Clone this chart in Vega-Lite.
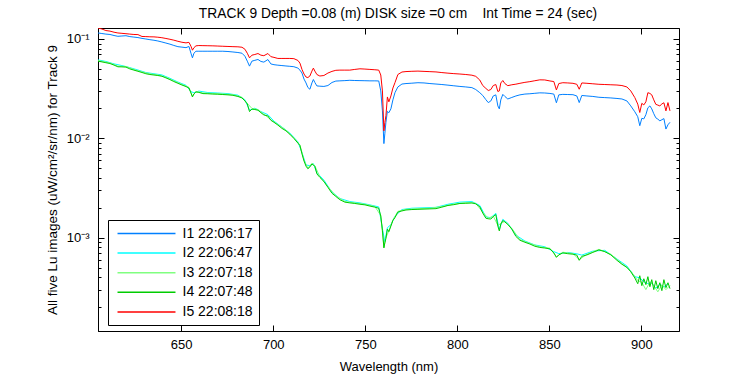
{
"$schema": "https://vega.github.io/schema/vega-lite/v6.json",
"width": 581, "height": 303,
"autosize": {"type": "none"},
"padding": {"left": 98, "top": 28, "right": 71, "bottom": 44},
"background": "white",
"title": {"text": "TRACK 9 Depth =0.08 (m) DISK size =0 cm\u00a0\u00a0\u00a0 Int Time = 24 (sec)", "fontSize": 13.8, "fontWeight": "normal", "color": "black", "offset": 7, "frame": "group", "anchor": "middle", "dx": 9.5},
"config": {
  "font": "Liberation Sans",
  "view": {"stroke": "black", "strokeWidth": 1},
  "axis": {"grid": false, "domainColor": "black", "tickColor": "black", "labelColor": "black", "titleColor": "black", "labelFontSize": 13, "titleFontSize": 13, "titleFontWeight": "normal", "labelOverlap": false, "labelFlush": false}
},
"data": {"values": [
{"w":604.8,"I1 22:06:17":0.115,"I2 22:06:47":0.0616,"I3 22:07:18":0.0607,"I4 22:07:48":0.0598,"I5 22:08:18":0.129},
{"w":606.9,"I1 22:06:17":0.1135,"I3 22:07:18":0.0597,"I4 22:07:48":0.0588,"I5 22:08:18":0.126},
{"w":609.1,"I1 22:06:17":0.112,"I2 22:06:47":0.0594,"I4 22:07:48":0.0577,"I5 22:08:18":0.1216},
{"w":611.3,"I1 22:06:17":0.111,"I3 22:07:18":0.0574,"I4 22:07:48":0.0566,"I5 22:08:18":0.120},
{"w":613.5,"I1 22:06:17":0.1084,"I2 22:06:47":0.0562,"I4 22:07:48":0.0546,"I5 22:08:18":0.117},
{"w":615.6,"I1 22:06:17":0.1064,"I3 22:07:18":0.0533,"I4 22:07:48":0.0525,"I5 22:08:18":0.115},
{"w":617.8,"I1 22:06:17":0.1072,"I2 22:06:47":0.0540,"I4 22:07:48":0.0524,"I5 22:08:18":0.114},
{"w":620.0,"I1 22:06:17":0.1079,"I3 22:07:18":0.0529,"I4 22:07:48":0.0521,"I5 22:08:18":0.113},
{"w":622.1,"I1 22:06:17":0.1057,"I2 22:06:47":0.0515,"I4 22:07:48":0.0500,"I5 22:08:18":0.112},
{"w":624.3,"I1 22:06:17":0.1045,"I3 22:07:18":0.0493,"I4 22:07:48":0.0486,"I5 22:08:18":0.111},
{"w":626.5,"I1 22:06:17":0.1033,"I2 22:06:47":0.0487,"I4 22:07:48":0.0473,"I5 22:08:18":0.1107},
{"w":628.7,"I1 22:06:17":0.1014,"I3 22:07:18":0.0467,"I4 22:07:48":0.0460,"I5 22:08:18":0.106},
{"w":630.8,"I1 22:06:17":0.1000,"I2 22:06:47":0.0460,"I4 22:07:48":0.0447,"I5 22:08:18":0.1057},
{"w":633.0,"I1 22:06:17":0.0984,"I3 22:07:18":0.0446,"I4 22:07:48":0.0439,"I5 22:08:18":0.1052},
{"w":635.2,"I1 22:06:17":0.0971,"I2 22:06:47":0.0447,"I4 22:07:48":0.0434,"I5 22:08:18":0.105},
{"w":637.3,"I1 22:06:17":0.0955,"I3 22:07:18":0.0435,"I4 22:07:48":0.0429,"I5 22:08:18":0.1042},
{"w":639.5,"I1 22:06:17":0.0933,"I2 22:06:47":0.0435,"I4 22:07:48":0.0422,"I5 22:08:18":0.103},
{"w":641.7,"I1 22:06:17":0.0910,"I3 22:07:18":0.0412,"I4 22:07:48":0.0406,"I5 22:08:18":0.1012},
{"w":643.9,"I1 22:06:17":0.0887,"I2 22:06:47":0.0402,"I4 22:07:48":0.0390,"I5 22:08:18":0.0993},
{"w":646.0,"I1 22:06:17":0.0861,"I3 22:07:18":0.0379,"I4 22:07:48":0.0373,"I5 22:08:18":0.0973},
{"w":648.2,"I1 22:06:17":0.0837,"I2 22:06:47":0.0369,"I4 22:07:48":0.0358,"I5 22:08:18":0.0948},
{"w":650.4,"I1 22:06:17":0.0828,"I3 22:07:18":0.0349,"I4 22:07:48":0.0344,"I5 22:08:18":0.0927},
{"w":652.6,"I1 22:06:17":0.0818,"I2 22:06:47":0.0342,"I4 22:07:48":0.0332,"I5 22:08:18":0.0914},
{"w":654.2,"I1 22:06:17":0.0841,"I3 22:07:18":0.0326,"I4 22:07:48":0.0321,"I5 22:08:18":0.0925},
{"w":655.3,"I1 22:06:17":0.0719,"I2 22:06:47":0.0295,"I4 22:07:48":0.0286,"I5 22:08:18":0.0845},
{"w":656.1,"I1 22:06:17":0.0646,"I3 22:07:18":0.0265,"I4 22:07:48":0.0261,"I5 22:08:18":0.0771},
{"w":656.9,"I1 22:06:17":0.0719,"I2 22:06:47":0.0288,"I4 22:07:48":0.0280,"I5 22:08:18":0.0817},
{"w":658.0,"I1 22:06:17":0.0753,"I3 22:07:18":0.0297,"I4 22:07:48":0.0293,"I5 22:08:18":0.0853},
{"w":659.6,"I1 22:06:17":0.0753,"I2 22:06:47":0.0299,"I4 22:07:48":0.0290,"I5 22:08:18":0.0859},
{"w":661.8,"I1 22:06:17":0.0753,"I3 22:07:18":0.0286,"I4 22:07:48":0.0282,"I5 22:08:18":0.0857},
{"w":664.5,"I1 22:06:17":0.0753,"I2 22:06:47":0.0289,"I4 22:07:48":0.0281,"I5 22:08:18":0.0855},
{"w":667.2,"I1 22:06:17":0.0753,"I3 22:07:18":0.0283,"I4 22:07:48":0.0279,"I5 22:08:18":0.0853},
{"w":669.9,"I1 22:06:17":0.0753,"I2 22:06:47":0.0286,"I4 22:07:48":0.0278,"I5 22:08:18":0.0849},
{"w":672.6,"I1 22:06:17":0.0753,"I3 22:07:18":0.0280,"I4 22:07:48":0.0276,"I5 22:08:18":0.0845},
{"w":675.4,"I1 22:06:17":0.0748,"I2 22:06:47":0.0282,"I4 22:07:48":0.0274,"I5 22:08:18":0.0841},
{"w":678.1,"I1 22:06:17":0.0740,"I3 22:07:18":0.0275,"I4 22:07:48":0.0271,"I5 22:08:18":0.0837},
{"w":680.8,"I1 22:06:17":0.0731,"I2 22:06:47":0.0272,"I4 22:07:48":0.0264,"I5 22:08:18":0.0834},
{"w":683.0,"I1 22:06:17":0.0719,"I3 22:07:18":0.0259,"I4 22:07:48":0.0255,"I5 22:08:18":0.0826},
{"w":684.6,"I1 22:06:17":0.0671,"I2 22:06:47":0.0245,"I4 22:07:48":0.0238,"I5 22:08:18":0.0789},
{"w":685.9,"I1 22:06:17":0.0598,"I3 22:07:18":0.0225,"I4 22:07:48":0.0222,"I5 22:08:18":0.0719},
{"w":687.1,"I1 22:06:17":0.0533,"I2 22:06:47":0.0192,"I4 22:07:48":0.0186,"I5 22:08:18":0.0646},
{"w":688.4,"I1 22:06:17":0.0598,"I3 22:07:18":0.0200,"I4 22:07:48":0.0197,"I5 22:08:18":0.0687},
{"w":690.0,"I1 22:06:17":0.0610,"I2 22:06:47":0.0201,"I4 22:07:48":0.0195,"I5 22:08:18":0.0698},
{"w":691.7,"I1 22:06:17":0.0622,"I3 22:07:18":0.0195,"I4 22:07:48":0.0192,"I5 22:08:18":0.0714},
{"w":693.3,"I1 22:06:17":0.0594,"I2 22:06:47":0.0186,"I4 22:07:48":0.0181,"I5 22:08:18":0.0687},
{"w":694.9,"I1 22:06:17":0.0585,"I3 22:07:18":0.0175,"I4 22:07:48":0.0172,"I5 22:08:18":0.0679},
{"w":697.1,"I1 22:06:17":0.0621,"I2 22:06:47":0.0173,"I4 22:07:48":0.0168,"I5 22:08:18":0.0714},
{"w":698.7,"I1 22:06:17":0.0561,"I3 22:07:18":0.0154,"I4 22:07:48":0.0152,"I5 22:08:18":0.0664},
{"w":700.4,"I1 22:06:17":0.0551,"I2 22:06:47":0.0149,"I4 22:07:48":0.0145,"I5 22:08:18":0.0653},
{"w":702.5,"I1 22:06:17":0.0545,"I3 22:07:18":0.0138,"I4 22:07:48":0.0136,"I5 22:08:18":0.0637},
{"w":704.7,"I1 22:06:17":0.0540,"I2 22:06:47":0.0130,"I4 22:07:48":0.0126,"I5 22:08:18":0.0637},
{"w":706.9,"I1 22:06:17":0.0535,"I3 22:07:18":0.0121,"I4 22:07:48":0.0119,"I5 22:08:18":0.0637},
{"w":709.0,"I1 22:06:17":0.0531,"I2 22:06:47":0.0113,"I4 22:07:48":0.0110,"I5 22:08:18":0.0637},
{"w":711.2,"I1 22:06:17":0.0526,"I3 22:07:18":0.0101,"I4 22:07:48":0.00998,"I5 22:08:18":0.0634},
{"w":713.4,"I1 22:06:17":0.0509,"I2 22:06:47":0.00922,"I4 22:07:48":0.00895,"I5 22:08:18":0.0608},
{"w":714.5,"I1 22:06:17":0.0486,"I3 22:07:18":0.00858,"I4 22:07:48":0.00845,"I5 22:08:18":0.0571},
{"w":715.6,"I1 22:06:17":0.0454,"I2 22:06:47":0.00719,"I4 22:07:48":0.00698,"I5 22:08:18":0.0494},
{"w":716.7,"I1 22:06:17":0.0395,"I3 22:07:18":0.00601,"I4 22:07:48":0.00592,"I5 22:08:18":0.0444},
{"w":717.8,"I1 22:06:17":0.0361,"I2 22:06:47":0.00540,"I4 22:07:48":0.00524,"I5 22:08:18":0.0414},
{"w":718.8,"I1 22:06:17":0.0325,"I3 22:07:18":0.00501,"I4 22:07:48":0.00494,"I5 22:08:18":0.0409},
{"w":719.9,"I1 22:06:17":0.0312,"I2 22:06:47":0.00530,"I4 22:07:48":0.00515,"I5 22:08:18":0.0424},
{"w":721.0,"I1 22:06:17":0.0361,"I3 22:07:18":0.00560,"I4 22:07:48":0.00552,"I5 22:08:18":0.0475},
{"w":721.8,"I1 22:06:17":0.0391,"I2 22:06:47":0.00556,"I4 22:07:48":0.00540,"I5 22:08:18":0.0509},
{"w":722.6,"I1 22:06:17":0.0365,"I3 22:07:18":0.00529,"I4 22:07:48":0.00521,"I5 22:08:18":0.0475},
{"w":723.7,"I1 22:06:17":0.0337,"I2 22:06:47":0.00452,"I4 22:07:48":0.00439,"I5 22:08:18":0.0439},
{"w":725.3,"I1 22:06:17":0.0335,"I3 22:07:18":0.00411,"I4 22:07:48":0.00405,"I5 22:08:18":0.0424},
{"w":727.5,"I1 22:06:17":0.0333,"I2 22:06:47":0.00380,"I4 22:07:48":0.00369,"I5 22:08:18":0.0429},
{"w":729.7,"I1 22:06:17":0.0340,"I3 22:07:18":0.00326,"I4 22:07:48":0.00321,"I5 22:08:18":0.0454},
{"w":731.9,"I1 22:06:17":0.0365,"I2 22:06:47":0.00288,"I4 22:07:48":0.00280,"I5 22:08:18":0.0472},
{"w":734.0,"I1 22:06:17":0.0377,"I3 22:07:18":0.00264,"I4 22:07:48":0.00260,"I5 22:08:18":0.0484},
{"w":736.2,"I1 22:06:17":0.0379,"I2 22:06:47":0.00248,"I4 22:07:48":0.00241,"I5 22:08:18":0.0486},
{"w":738.9,"I1 22:06:17":0.0381,"I3 22:07:18":0.00231,"I4 22:07:48":0.00228,"I5 22:08:18":0.0486},
{"w":741.6,"I1 22:06:17":0.0384,"I2 22:06:47":0.00231,"I4 22:07:48":0.00224,"I5 22:08:18":0.0486},
{"w":744.3,"I1 22:06:17":0.0382,"I3 22:07:18":0.00224,"I4 22:07:48":0.00221,"I5 22:08:18":0.0494},
{"w":747.1,"I1 22:06:17":0.0381,"I2 22:06:47":0.00224,"I4 22:07:48":0.00217,"I5 22:08:18":0.0501},
{"w":749.8,"I1 22:06:17":0.0380,"I3 22:07:18":0.00217,"I4 22:07:48":0.00214,"I5 22:08:18":0.0498},
{"w":752.5,"I1 22:06:17":0.0379,"I2 22:06:47":0.00214,"I4 22:07:48":0.00208,"I5 22:08:18":0.0494},
{"w":755.2,"I1 22:06:17":0.0379,"I3 22:07:18":0.00206,"I4 22:07:48":0.00203,"I5 22:08:18":0.0490},
{"w":757.3,"I1 22:06:17":0.0378,"I2 22:06:47":0.00204,"I4 22:07:48":0.00198,"I5 22:08:18":0.0486},
{"w":758.4,"I1 22:06:17":0.0300,"I3 22:07:18":0.00167,"I4 22:07:48":0.00165,"I5 22:08:18":0.0434},
{"w":759.3,"I1 22:06:17":0.0189,"I2 22:06:47":0.00123,"I4 22:07:48":0.00119,"I5 22:08:18":0.0300},
{"w":760.1,"I1 22:06:17":0.00885,"I3 22:07:18":0.000801,"I4 22:07:48":0.000789,"I5 22:08:18":0.0119},
{"w":760.6,"I1 22:06:17":0.0111,"I2 22:06:47":0.000912,"I4 22:07:48":0.000885,"I5 22:08:18":0.0144},
{"w":761.2,"I1 22:06:17":0.0145,"I3 22:07:18":0.00100,"I4 22:07:48":0.000986,"I5 22:08:18":0.0169},
{"w":762.0,"I1 22:06:17":0.0187,"I2 22:06:47":0.00126,"I4 22:07:48":0.00122,"I5 22:08:18":0.0261},
{"w":762.8,"I1 22:06:17":0.0181,"I3 22:07:18":0.00117,"I4 22:07:48":0.00115,"I5 22:08:18":0.0233},
{"w":763.9,"I1 22:06:17":0.0198,"I2 22:06:47":0.00135,"I4 22:07:48":0.00131,"I5 22:08:18":0.0267},
{"w":765.0,"I1 22:06:17":0.0244,"I3 22:07:18":0.00151,"I4 22:07:48":0.00149,"I5 22:08:18":0.0321},
{"w":766.1,"I1 22:06:17":0.0288,"I2 22:06:47":0.00164,"I4 22:07:48":0.00159,"I5 22:08:18":0.0363},
{"w":767.7,"I1 22:06:17":0.0329,"I3 22:07:18":0.00184,"I4 22:07:48":0.00181,"I5 22:08:18":0.0439},
{"w":769.9,"I1 22:06:17":0.0352,"I2 22:06:47":0.00192,"I4 22:07:48":0.00186,"I5 22:08:18":0.0465},
{"w":772.1,"I1 22:06:17":0.0356,"I3 22:07:18":0.00193,"I4 22:07:48":0.00190,"I5 22:08:18":0.0470},
{"w":775.3,"I1 22:06:17":0.0359,"I2 22:06:47":0.00198,"I4 22:07:48":0.00192,"I5 22:08:18":0.0473},
{"w":778.6,"I1 22:06:17":0.0363,"I3 22:07:18":0.00196,"I4 22:07:48":0.00193,"I5 22:08:18":0.0475},
{"w":781.9,"I1 22:06:17":0.0361,"I2 22:06:47":0.00200,"I4 22:07:48":0.00194,"I5 22:08:18":0.0472},
{"w":785.1,"I1 22:06:17":0.0356,"I3 22:07:18":0.00198,"I4 22:07:48":0.00195,"I5 22:08:18":0.0469},
{"w":788.4,"I1 22:06:17":0.0352,"I2 22:06:47":0.00202,"I4 22:07:48":0.00196,"I5 22:08:18":0.0466},
{"w":791.6,"I1 22:06:17":0.0348,"I3 22:07:18":0.00206,"I4 22:07:48":0.00203,"I5 22:08:18":0.0459},
{"w":794.9,"I1 22:06:17":0.0343,"I2 22:06:47":0.00217,"I4 22:07:48":0.00211,"I5 22:08:18":0.0453},
{"w":798.1,"I1 22:06:17":0.0338,"I3 22:07:18":0.00218,"I4 22:07:48":0.00215,"I5 22:08:18":0.0448},
{"w":801.4,"I1 22:06:17":0.0333,"I2 22:06:47":0.00228,"I4 22:07:48":0.00221,"I5 22:08:18":0.0444},
{"w":804.6,"I1 22:06:17":0.0329,"I3 22:07:18":0.00225,"I4 22:07:48":0.00222,"I5 22:08:18":0.0439},
{"w":807.9,"I1 22:06:17":0.0324,"I2 22:06:47":0.00231,"I4 22:07:48":0.00224,"I5 22:08:18":0.0432},
{"w":810.0,"I1 22:06:17":0.0310,"I3 22:07:18":0.00222,"I4 22:07:48":0.00219,"I5 22:08:18":0.0421},
{"w":812.2,"I1 22:06:17":0.0288,"I2 22:06:47":0.00211,"I4 22:07:48":0.00205,"I5 22:08:18":0.0386},
{"w":813.8,"I1 22:06:17":0.0270,"I3 22:07:18":0.00180,"I4 22:07:48":0.00177,"I5 22:08:18":0.0340},
{"w":815.5,"I1 22:06:17":0.0245,"I2 22:06:47":0.00162,"I4 22:07:48":0.00157,"I5 22:08:18":0.0318},
{"w":816.8,"I1 22:06:17":0.0229,"I3 22:07:18":0.00157,"I4 22:07:48":0.00155,"I5 22:08:18":0.0303},
{"w":818.2,"I1 22:06:17":0.0238,"I2 22:06:47":0.00159,"I4 22:07:48":0.00154,"I5 22:08:18":0.0310},
{"w":819.5,"I1 22:06:17":0.0267,"I3 22:07:18":0.00165,"I4 22:07:48":0.00163,"I5 22:08:18":0.0340},
{"w":820.9,"I1 22:06:17":0.0274,"I2 22:06:47":0.00176,"I4 22:07:48":0.00171,"I5 22:08:18":0.0348},
{"w":822.0,"I1 22:06:17":0.0212,"I3 22:07:18":0.00133,"I4 22:07:48":0.00131,"I5 22:08:18":0.0296},
{"w":822.8,"I1 22:06:17":0.0198,"I2 22:06:47":0.00121,"I4 22:07:48":0.00117,"I5 22:08:18":0.0300},
{"w":823.6,"I1 22:06:17":0.0244,"I3 22:07:18":0.00139,"I4 22:07:48":0.00137,"I5 22:08:18":0.0361},
{"w":824.7,"I1 22:06:17":0.0277,"I2 22:06:47":0.00153,"I4 22:07:48":0.00149,"I5 22:08:18":0.0382},
{"w":825.8,"I1 22:06:17":0.0264,"I3 22:07:18":0.00146,"I4 22:07:48":0.00144,"I5 22:08:18":0.0356},
{"w":827.4,"I1 22:06:17":0.0249,"I2 22:06:47":0.00140,"I4 22:07:48":0.00136,"I5 22:08:18":0.0339},
{"w":829.6,"I1 22:06:17":0.0258,"I3 22:07:18":0.00124,"I4 22:07:48":0.00122,"I5 22:08:18":0.0346},
{"w":831.8,"I1 22:06:17":0.0267,"I2 22:06:47":0.00106,"I4 22:07:48":0.00103,"I5 22:08:18":0.0351},
{"w":834.0,"I1 22:06:17":0.0274,"I3 22:07:18":0.000956,"I4 22:07:48":0.000942,"I5 22:08:18":0.0358},
{"w":836.7,"I1 22:06:17":0.0279,"I2 22:06:47":0.000926,"I4 22:07:48":0.000899,"I5 22:08:18":0.0366},
{"w":839.4,"I1 22:06:17":0.0281,"I3 22:07:18":0.000876,"I4 22:07:48":0.000863,"I5 22:08:18":0.0372},
{"w":842.1,"I1 22:06:17":0.0284,"I2 22:06:47":0.000845,"I4 22:07:48":0.000820,"I5 22:08:18":0.0380},
{"w":844.8,"I1 22:06:17":0.0287,"I3 22:07:18":0.000810,"I4 22:07:48":0.000798,"I5 22:08:18":0.0388},
{"w":847.5,"I1 22:06:17":0.0286,"I2 22:06:47":0.000811,"I4 22:07:48":0.000787,"I5 22:08:18":0.0387},
{"w":850.3,"I1 22:06:17":0.0283,"I3 22:07:18":0.000783,"I4 22:07:48":0.000771,"I5 22:08:18":0.0378},
{"w":852.4,"I1 22:06:17":0.0279,"I2 22:06:47":0.000724,"I4 22:07:48":0.000703,"I5 22:08:18":0.0373},
{"w":853.8,"I1 22:06:17":0.0228,"I3 22:07:18":0.000644,"I4 22:07:48":0.000634,"I5 22:08:18":0.0307},
{"w":855.1,"I1 22:06:17":0.0274,"I2 22:06:47":0.000691,"I4 22:07:48":0.000671,"I5 22:08:18":0.0356},
{"w":857.3,"I1 22:06:17":0.0277,"I3 22:07:18":0.000714,"I4 22:07:48":0.000703,"I5 22:08:18":0.0363},
{"w":860.0,"I1 22:06:17":0.0276,"I2 22:06:47":0.000711,"I4 22:07:48":0.000690,"I5 22:08:18":0.0361},
{"w":862.8,"I1 22:06:17":0.0275,"I3 22:07:18":0.000692,"I4 22:07:48":0.000682,"I5 22:08:18":0.0358},
{"w":864.9,"I1 22:06:17":0.0267,"I2 22:06:47":0.000688,"I4 22:07:48":0.000668,"I5 22:08:18":0.0350},
{"w":866.2,"I1 22:06:17":0.0229,"I3 22:07:18":0.000601,"I4 22:07:48":0.000592,"I5 22:08:18":0.0312},
{"w":867.6,"I1 22:06:17":0.0270,"I2 22:06:47":0.000668,"I4 22:07:48":0.000649,"I5 22:08:18":0.0361},
{"w":870.4,"I1 22:06:17":0.0267,"I3 22:07:18":0.000681,"I4 22:07:48":0.000671,"I5 22:08:18":0.0358},
{"w":873.6,"I1 22:06:17":0.0264,"I2 22:06:47":0.000732,"I4 22:07:48":0.000711,"I5 22:08:18":0.0354},
{"w":876.9,"I1 22:06:17":0.0259,"I3 22:07:18":0.000764,"I4 22:07:48":0.000753,"I5 22:08:18":0.0350},
{"w":880.1,"I1 22:06:17":0.0257,"I2 22:06:47":0.000746,"I4 22:07:48":0.000724,"I5 22:08:18":0.0348},
{"w":883.4,"I1 22:06:17":0.0255,"I3 22:07:18":0.000681,"I4 22:07:48":0.000671,"I5 22:08:18":0.0346},
{"w":886.7,"I1 22:06:17":0.0252,"I2 22:06:47":0.000610,"I4 22:07:48":0.000592,"I5 22:08:18":0.0344},
{"w":889.4,"I1 22:06:17":0.0249,"I3 22:07:18":0.000548,"I4 22:07:48":0.000540,"I5 22:08:18":0.0340},
{"w":892.1,"I1 22:06:17":0.0238,"I2 22:06:47":0.000519,"I4 22:07:48":0.000504,"I5 22:08:18":0.0329},
{"w":894.2,"I1 22:06:17":0.0212,"I3 22:07:18":0.000461,"I4 22:07:48":0.000454,"I5 22:08:18":0.0300},
{"w":896.4,"I1 22:06:17":0.0185,"I2 22:06:47":0.000405,"I4 22:07:48":0.000393,"I5 22:08:18":0.0257},
{"w":898.0,"I1 22:06:17":0.0165,"I3 22:07:18":0.000370,"I4 22:07:48":0.000344,"I5 22:08:18":0.0221},
{"w":899.1,"I1 22:06:17":0.0134,"I2 22:06:47":0.000395,"I4 22:07:48":0.000414,"I5 22:08:18":0.0182},
{"w":900.2,"I1 22:06:17":0.0159,"I3 22:07:18":0.000355,"I4 22:07:48":0.000329,"I5 22:08:18":0.0225},
{"w":901.3,"I1 22:06:17":0.0157,"I2 22:06:47":0.000360,"I4 22:07:48":0.000386,"I5 22:08:18":0.0217},
{"w":902.4,"I1 22:06:17":0.0173,"I3 22:07:18":0.000300,"I4 22:07:48":0.000337,"I5 22:08:18":0.0233},
{"w":903.5,"I1 22:06:17":0.0203,"I2 22:06:47":0.000345,"I4 22:07:48":0.000405,"I5 22:08:18":0.0288},
{"w":904.6,"I1 22:06:17":0.0212,"I3 22:07:18":0.000360,"I4 22:07:48":0.000321,"I5 22:08:18":0.0283},
{"w":905.6,"I1 22:06:17":0.0198,"I2 22:06:47":0.000350,"I4 22:07:48":0.000378,"I5 22:08:18":0.0274},
{"w":906.7,"I1 22:06:17":0.0177,"I3 22:07:18":0.000330,"I4 22:07:48":0.000300,"I5 22:08:18":0.0244},
{"w":907.8,"I1 22:06:17":0.0161,"I2 22:06:47":0.000310,"I4 22:07:48":0.000369,"I5 22:08:18":0.0220},
{"w":908.9,"I1 22:06:17":0.0156,"I3 22:07:18":0.000285,"I4 22:07:48":0.000307,"I5 22:08:18":0.0216},
{"w":910.0,"I1 22:06:17":0.0150,"I2 22:06:47":0.000340,"I4 22:07:48":0.000352,"I5 22:08:18":0.0212},
{"w":911.1,"I1 22:06:17":0.0154,"I3 22:07:18":0.000335,"I4 22:07:48":0.000293,"I5 22:08:18":0.0222},
{"w":912.2,"I1 22:06:17":0.0158,"I2 22:06:47":0.000320,"I4 22:07:48":0.000378,"I5 22:08:18":0.0228},
{"w":913.3,"I1 22:06:17":0.0124,"I3 22:07:18":0.000300,"I4 22:07:48":0.000314,"I5 22:08:18":0.0189},
{"w":914.4,"I1 22:06:17":0.0137,"I2 22:06:47":0.000345,"I4 22:07:48":0.000352,"I5 22:08:18":0.0229},
{"w":915.5,"I1 22:06:17":0.0145,"I3 22:07:18":0.000330,"I4 22:07:48":0.000307,"I5 22:08:18":0.0189}
]},
"transform": [
  {"fold": ["I1 22:06:17","I2 22:06:47","I3 22:07:18","I4 22:07:48","I5 22:08:18"], "as": ["series","value"]},
  {"filter": "isValid(datum.value)"}
],
"layer": [
  {
    "mark": {"type": "line", "strokeWidth": 1, "clip": true},
    "encoding": {
      "x": {"field": "w", "type": "quantitative", "scale": {"domain": [604.8, 920.4], "nice": false, "zero": false},
        "axis": {"values": [650,700,750,800,850,900], "title": "Wavelength (nm)", "tickSize": -6, "labelPadding": 13, "titlePadding": 9}},
      "y": {"field": "value", "type": "quantitative", "scale": {"type": "log", "domain": [0.000115, 0.129], "nice": false},
        "axis": {"values": [0.0002,0.0003,0.0004,0.0005,0.0006,0.0007,0.0008,0.0009,0.001,0.002,0.003,0.004,0.005,0.006,0.007,0.008,0.009,0.01,0.02,0.03,0.04,0.05,0.06,0.07,0.08,0.09,0.1],
          "labelExpr": "datum.value == 0.1 ? '10⁻¹' : datum.value == 0.01 ? '10⁻²' : datum.value == 0.001 ? '10⁻³' : ''",
          "tickSize": {"condition": {"test": "datum.value == 0.1 || datum.value == 0.01 || datum.value == 0.001", "value": -6}, "value": -3},
          "labelPadding": 15, "title": "All five Lu images (uW/cm²/sr/nm) for Track 9", "titleFontSize": 13.5, "titlePadding": 7}},
      "color": {"field": "series", "type": "nominal",
        "scale": {"domain": ["I1 22:06:17","I2 22:06:47","I3 22:07:18","I4 22:07:48","I5 22:08:18"], "range": ["#0080ff","#00ffff","#80ff80","#00cc00","#ff0000"]},
        "legend": {"orient": "none", "legendX": 10, "legendY": 192, "title": null, "symbolType": "M-4,0H4", "symbolSize": 210, "symbolStrokeWidth": 1.5, "labelFontSize": 14, "labelColor": "black", "labelOffset": 28, "symbolOffset": 25, "padding": 5.5, "rowPadding": 4.6, "strokeColor": "black", "fillColor": "white"}}
    }
  },
  {
    "mark": {"type": "line", "opacity": 0, "clip": true},
    "encoding": {
      "x": {"field": "w", "type": "quantitative", "axis": {"orient": "top", "values": [650,700,750,800,850,900], "labels": false, "title": null, "tickSize": -6}},
      "y": {"field": "value", "type": "quantitative",
        "axis": {"orient": "left", "offset": -581, "domain": false, "values": [0.0002,0.0003,0.0004,0.0005,0.0006,0.0007,0.0008,0.0009,0.001,0.002,0.003,0.004,0.005,0.006,0.007,0.008,0.009,0.01,0.02,0.03,0.04,0.05,0.06,0.07,0.08,0.09,0.1],
          "labels": false, "title": null,
          "tickSize": {"condition": {"test": "datum.value == 0.1 || datum.value == 0.01 || datum.value == 0.001", "value": 6}, "value": 3}}},
      "detail": {"field": "series"}
    }
  }
],
"resolve": {"axis": {"x": "independent", "y": "independent"}}
}
